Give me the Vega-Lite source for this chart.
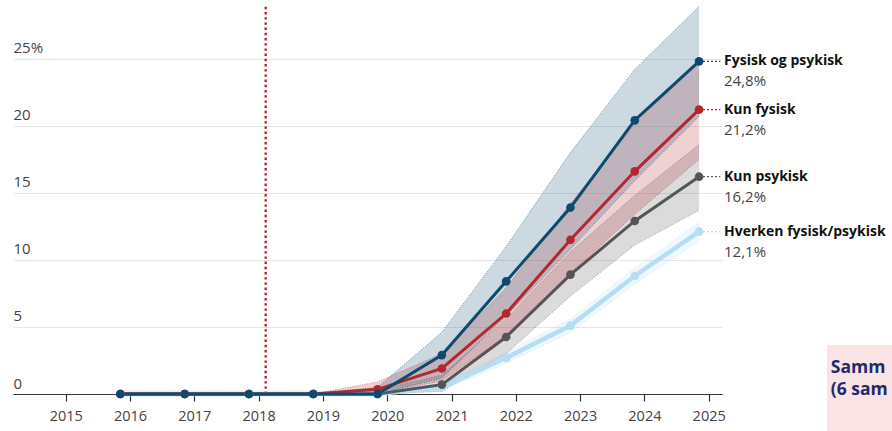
{
  "$schema": "https://vega.github.io/schema/vega-lite/v6.json",
  "width": 709,
  "height": 389,
  "autosize": "none",
  "padding": {"left": 13, "top": 5, "right": 170, "bottom": 37},
  "background": "white",
  "config": {"view": {"stroke": null}, "font": "Open Sans"},
  "datasets": {
    "series": [
      {"s": "Hverken fysisk/psykisk", "t": 2015.85, "v": 0, "lo": 0, "hi": 0.25},
      {"s": "Hverken fysisk/psykisk", "t": 2016.85, "v": 0, "lo": 0, "hi": 0.25},
      {"s": "Hverken fysisk/psykisk", "t": 2017.85, "v": 0, "lo": 0, "hi": 0.25},
      {"s": "Hverken fysisk/psykisk", "t": 2018.85, "v": 0, "lo": 0, "hi": 0.25},
      {"s": "Hverken fysisk/psykisk", "t": 2019.85, "v": 0, "lo": 0, "hi": 0.25},
      {"s": "Hverken fysisk/psykisk", "t": 2020.85, "v": 0.5, "lo": 0.3, "hi": 0.8},
      {"s": "Hverken fysisk/psykisk", "t": 2021.85, "v": 2.7, "lo": 2.3, "hi": 3.1},
      {"s": "Hverken fysisk/psykisk", "t": 2022.85, "v": 5.1, "lo": 4.6, "hi": 5.6},
      {"s": "Hverken fysisk/psykisk", "t": 2023.85, "v": 8.8, "lo": 8.2, "hi": 9.4},
      {"s": "Hverken fysisk/psykisk", "t": 2024.85, "v": 12.1, "lo": 11.4, "hi": 12.8},
      {"s": "Kun psykisk", "t": 2015.85, "v": 0, "lo": 0, "hi": 0},
      {"s": "Kun psykisk", "t": 2016.85, "v": 0, "lo": 0, "hi": 0},
      {"s": "Kun psykisk", "t": 2017.85, "v": 0, "lo": 0, "hi": 0},
      {"s": "Kun psykisk", "t": 2018.85, "v": 0, "lo": 0, "hi": 0},
      {"s": "Kun psykisk", "t": 2019.85, "v": 0, "lo": 0, "hi": 0.3},
      {"s": "Kun psykisk", "t": 2020.85, "v": 0.7, "lo": 0.2, "hi": 1.4},
      {"s": "Kun psykisk", "t": 2021.85, "v": 4.25, "lo": 3.0, "hi": 5.6},
      {"s": "Kun psykisk", "t": 2022.85, "v": 8.9, "lo": 7.3, "hi": 10.6},
      {"s": "Kun psykisk", "t": 2023.85, "v": 12.9, "lo": 11.1, "hi": 14.8},
      {"s": "Kun psykisk", "t": 2024.85, "v": 16.2, "lo": 13.7, "hi": 18.6},
      {"s": "Kun fysisk", "t": 2015.85, "v": 0, "lo": 0, "hi": 0},
      {"s": "Kun fysisk", "t": 2016.85, "v": 0, "lo": 0, "hi": 0},
      {"s": "Kun fysisk", "t": 2017.85, "v": 0, "lo": 0, "hi": 0},
      {"s": "Kun fysisk", "t": 2018.85, "v": 0, "lo": 0, "hi": 0},
      {"s": "Kun fysisk", "t": 2019.85, "v": 0.35, "lo": 0, "hi": 0.9},
      {"s": "Kun fysisk", "t": 2020.85, "v": 1.9, "lo": 1.0, "hi": 3.0},
      {"s": "Kun fysisk", "t": 2021.85, "v": 6.0, "lo": 4.3, "hi": 7.9},
      {"s": "Kun fysisk", "t": 2022.85, "v": 11.5, "lo": 9.0, "hi": 14.2},
      {"s": "Kun fysisk", "t": 2023.85, "v": 16.6, "lo": 13.4, "hi": 20.1},
      {"s": "Kun fysisk", "t": 2024.85, "v": 21.2, "lo": 17.5, "hi": 24.9},
      {"s": "Fysisk og psykisk", "t": 2015.85, "v": 0, "lo": 0, "hi": 0},
      {"s": "Fysisk og psykisk", "t": 2016.85, "v": 0, "lo": 0, "hi": 0},
      {"s": "Fysisk og psykisk", "t": 2017.85, "v": 0, "lo": 0, "hi": 0},
      {"s": "Fysisk og psykisk", "t": 2018.85, "v": 0, "lo": 0, "hi": 0},
      {"s": "Fysisk og psykisk", "t": 2019.85, "v": 0, "lo": 0, "hi": 0.5},
      {"s": "Fysisk og psykisk", "t": 2020.85, "v": 2.9, "lo": 1.2, "hi": 4.6},
      {"s": "Fysisk og psykisk", "t": 2021.85, "v": 8.4, "lo": 5.8, "hi": 11.0},
      {"s": "Fysisk og psykisk", "t": 2022.85, "v": 13.9, "lo": 10.8, "hi": 18.0},
      {"s": "Fysisk og psykisk", "t": 2023.85, "v": 20.4, "lo": 15.9, "hi": 24.2},
      {"s": "Fysisk og psykisk", "t": 2024.85, "v": 24.8, "lo": 20.7, "hi": 28.9}
    ],
    "labels": [
      {"s": "Hverken fysisk/psykisk", "t": 2024.85, "t2": 2025.18, "v": 12.1, "name": "Hverken fysisk/psykisk", "val": "12,1%"},
      {"s": "Kun psykisk", "t": 2024.85, "t2": 2025.18, "v": 16.2, "name": "Kun psykisk", "val": "16,2%"},
      {"s": "Kun fysisk", "t": 2024.85, "t2": 2025.18, "v": 21.2, "name": "Kun fysisk", "val": "21,2%"},
      {"s": "Fysisk og psykisk", "t": 2024.85, "t2": 2025.18, "v": 24.8, "name": "Fysisk og psykisk", "val": "24,8%"}
    ],
    "marker": [{"t": 2018.11, "y0": 0, "y1": 29}],
    "box": [{"x0": 2026.84, "x1": 2028.6, "y0": 3.66, "y1": -3.5}],
    "boxhead": [
      {"x": 2026.9, "y": 1.6, "txt": "Samm"},
      {"x": 2026.9, "y": -0.1, "txt": "(6 sam"}
    ],
    "boxsub": [
      {"x": 2026.9, "y": -3.4, "txt": "Prosent"}
    ]
  },
  "layer": [
    {
      "data": {"name": "series"},
      "mark": {"type": "area", "fillOpacity": 0.21, "strokeWidth": 0},
      "encoding": {
        "x": {"field": "t", "type": "quantitative",
          "scale": {"domain": [2014.18, 2025.207], "nice": false, "zero": false},
          "axis": {"title": null, "orient": "bottom", "values": [2015, 2016, 2017, 2018, 2019, 2020, 2021, 2022, 2023, 2024, 2025],
            "format": "d", "grid": false, "labelFontSize": 14.5, "labelColor": "#444", "labelFont": "Open Sans",
            "tickColor": "#333", "tickSize": 7, "tickWidth": 1.2, "domainColor": "#333", "domainWidth": 1.2,
            "labelPadding": 8, "labelFlush": false}},
        "y": {"field": "lo", "type": "quantitative",
          "scale": {"domain": [0, 29], "nice": false, "zero": false},
          "axis": {"title": null, "values": [0, 5, 10, 15, 20, 25], "grid": true, "gridColor": "#e6e6e6", "gridWidth": 1,
            "domain": false, "ticks": false, "tickSize": 0, "labelAlign": "left", "labelPadding": 0,
            "labelBaseline": "alphabetic", "labelOffset": -6, "labelFontSize": 15, "labelColor": "#444", "labelFont": "Open Sans",
            "labelFlush": false, "labelExpr": "datum.value == 25 ? '25%' : datum.label"}},
        "y2": {"field": "hi"},
        "color": {"field": "s", "type": "nominal", "legend": null,
          "scale": {"domain": ["Hverken fysisk/psykisk", "Kun psykisk", "Kun fysisk", "Fysisk og psykisk"],
            "range": ["#b5ddf3", "#555555", "#b3272d", "#0c4a70"]}}
      }
    },
    {
      "data": {"name": "series"},
      "mark": {"type": "line", "strokeWidth": 1, "strokeDash": [1, 1.5], "opacity": 0.55},
      "encoding": {
        "x": {"field": "t", "type": "quantitative"},
        "y": {"field": "lo", "type": "quantitative"},
        "color": {"field": "s", "type": "nominal", "legend": null}
      }
    },
    {
      "data": {"name": "series"},
      "mark": {"type": "line", "strokeWidth": 1, "strokeDash": [1, 1.5], "opacity": 0.55},
      "encoding": {
        "x": {"field": "t", "type": "quantitative"},
        "y": {"field": "hi", "type": "quantitative"},
        "color": {"field": "s", "type": "nominal", "legend": null}
      }
    },
    {
      "data": {"name": "marker"},
      "mark": {"type": "rule", "color": "#b3272d", "strokeWidth": 2.4, "strokeDash": [2.4, 2.8]},
      "encoding": {
        "x": {"field": "t", "type": "quantitative"},
        "y": {"field": "y0", "type": "quantitative"},
        "y2": {"field": "y1"}
      }
    },
    {
      "data": {"name": "series"},
      "mark": {"type": "line"},
      "encoding": {
        "x": {"field": "t", "type": "quantitative"},
        "y": {"field": "v", "type": "quantitative"},
        "color": {"field": "s", "type": "nominal", "legend": null},
        "strokeWidth": {"condition": {"test": "datum.s == 'Hverken fysisk/psykisk'", "value": 4.5}, "value": 3}
      }
    },
    {
      "data": {"name": "series"},
      "mark": {"type": "point", "filled": true, "opacity": 1, "size": 75},
      "encoding": {
        "x": {"field": "t", "type": "quantitative"},
        "y": {"field": "v", "type": "quantitative"},
        "color": {"field": "s", "type": "nominal", "legend": null}
      }
    },
    {
      "data": {"name": "labels"},
      "mark": {"type": "rule", "strokeWidth": 1.2, "strokeDash": [2, 2]},
      "encoding": {
        "x": {"field": "t", "type": "quantitative"},
        "x2": {"field": "t2"},
        "y": {"field": "v", "type": "quantitative"},
        "color": {"field": "s", "type": "nominal", "legend": null}
      }
    },
    {
      "data": {"name": "labels"},
      "mark": {"type": "text", "align": "left", "baseline": "middle", "dx": 25, "fontSize": 14, "fontWeight": "bold", "color": "#111", "font": "Open Sans"},
      "encoding": {
        "x": {"field": "t", "type": "quantitative"},
        "y": {"field": "v", "type": "quantitative"},
        "text": {"field": "name"}
      }
    },
    {
      "data": {"name": "labels"},
      "mark": {"type": "text", "align": "left", "baseline": "middle", "dx": 25, "dy": 20, "fontSize": 15, "color": "#444", "font": "Open Sans"},
      "encoding": {
        "x": {"field": "t", "type": "quantitative"},
        "y": {"field": "v", "type": "quantitative"},
        "text": {"field": "val"}
      }
    },
    {
      "data": {"name": "box"},
      "mark": {"type": "rect", "color": "#f9e3e5"},
      "encoding": {
        "x": {"field": "x0", "type": "quantitative"},
        "x2": {"field": "x1"},
        "y": {"field": "y0", "type": "quantitative"},
        "y2": {"field": "y1"}
      }
    },
    {
      "data": {"name": "boxhead"},
      "mark": {"type": "text", "align": "left", "baseline": "alphabetic", "color": "#1f2a6e", "font": "Open Sans", "fontSize": 17.5, "fontWeight": "bold"},
      "encoding": {
        "x": {"field": "x", "type": "quantitative"},
        "y": {"field": "y", "type": "quantitative"},
        "text": {"field": "txt"}
      }
    },
    {
      "data": {"name": "boxsub"},
      "mark": {"type": "text", "align": "left", "baseline": "alphabetic", "color": "#2c3a7a", "font": "Open Sans", "fontSize": 13},
      "encoding": {
        "x": {"field": "x", "type": "quantitative"},
        "y": {"field": "y", "type": "quantitative"},
        "text": {"field": "txt"}
      }
    }
  ]
}
